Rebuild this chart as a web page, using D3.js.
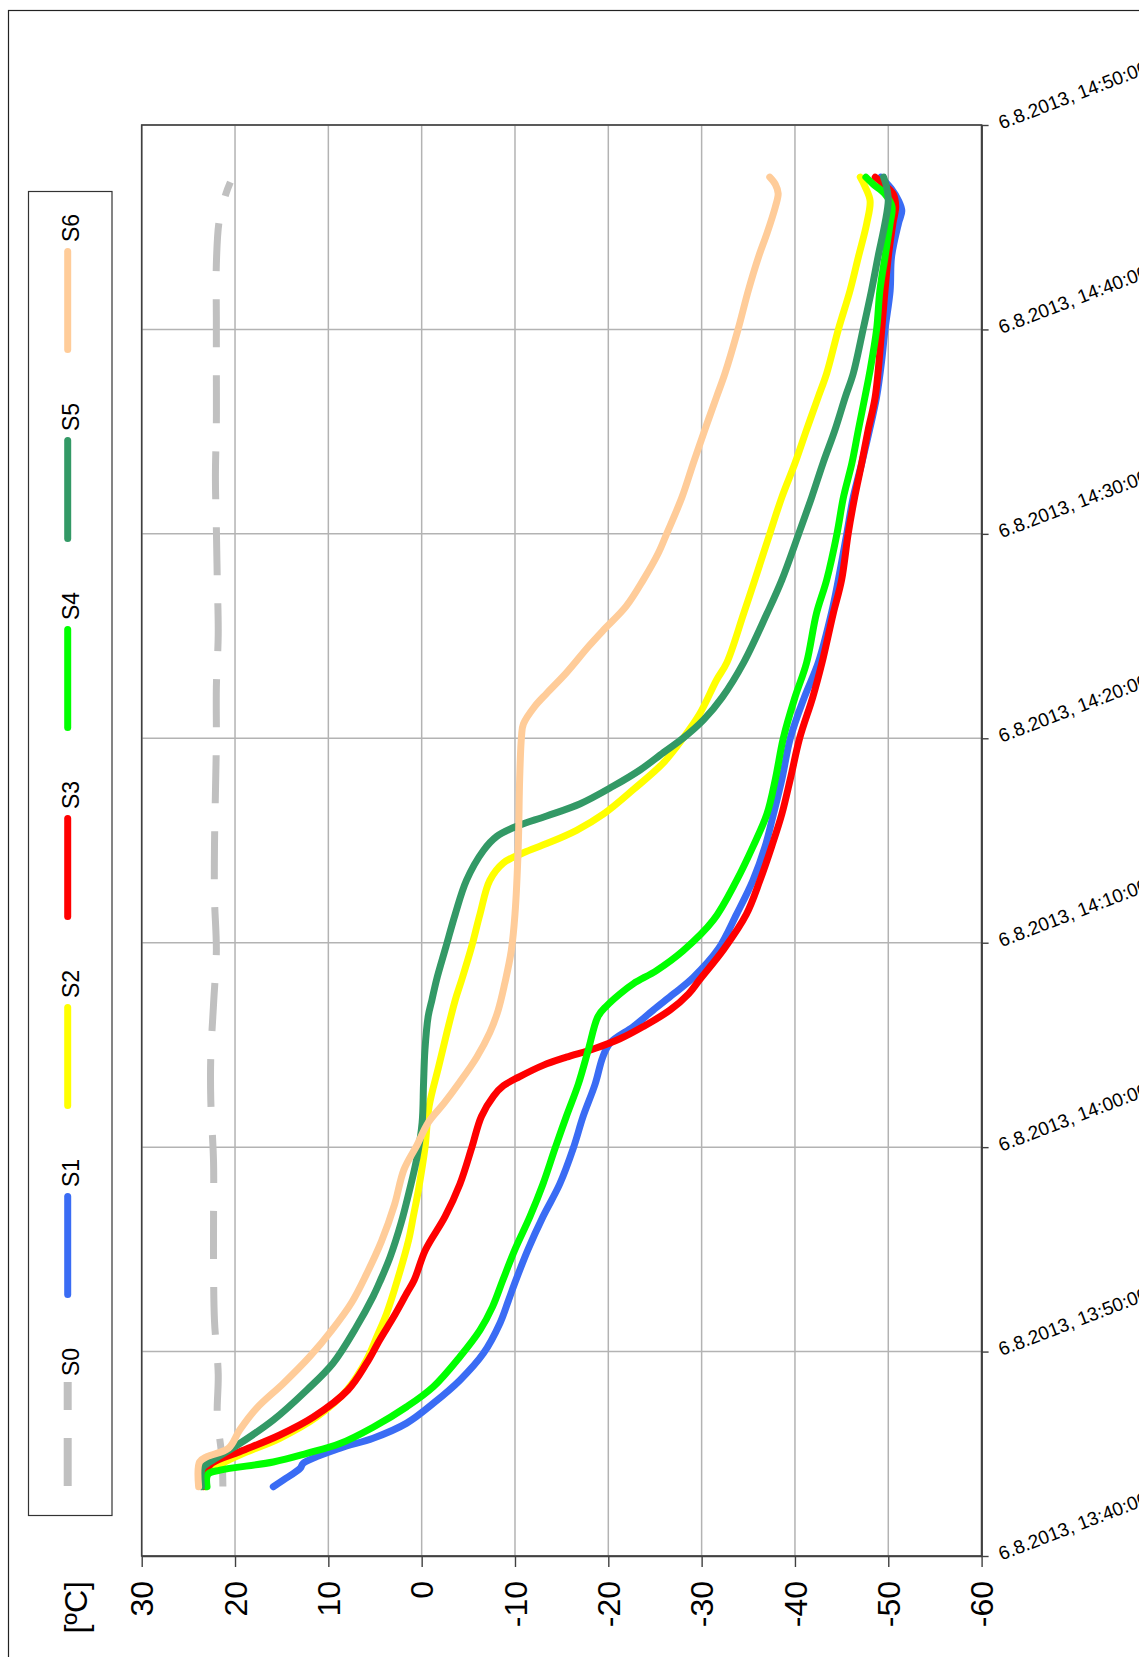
<!DOCTYPE html>
<html>
<head>
<meta charset="utf-8">
<script src="https://cdn.jsdelivr.net/npm/d3@7"></script>
<style>
  html, body { margin: 0; padding: 0; background: #fff; }
  svg { display: block; font-family: "Liberation Sans", Arial, Helvetica, sans-serif; }
</style>
</head>
<body>
<svg id="chart" width="1139" height="1657"></svg>
<script>
// Temperature logs, sampled as [minutes after 13:40:00, temperature in ºC]
const seriesNames = ["S0", "S1", "S2", "S3", "S4", "S5", "S6"];
const seriesColors = ["#c0c0c0", "#3a6cf4", "#ffff00", "#ff0000", "#00ff00", "#339966", "#ffcc99"];

const s0 = [[3.4,21.3],[4.8,21.4],[6.85,21.9],[8.9,21.8],[11.5,22.2],[14.1,22.3],[16.7,22.3],[19.25,22.3],[22.35,22.6],[24.4,22.6],[27.0,22.3],[29.6,22.0],[32.2,22.2],[34.75,22.2],[37.3,22.1],[39.9,22.0],[42.5,22.0],[45.1,21.8],[47.7,21.9],[50.3,22.0],[52.8,22.1],[55.4,22.0],[58.0,22.0],[60.6,22.0],[63.2,22.0],[65.3,21.7],[66.6,21.0],[67.2,20.5]];

const s1 = [[3.39,15.9],[3.72,14.8],[4.3,13.0],[4.53,12.7],[5.27,8.75],[5.76,5.2],[6.5,1.6],[7.47,-1.25],[8.6,-4.1],[9.9,-6.6],[11.4,-8.4],[12.5,-9.3],[13.5,-10.1],[15.0,-11.4],[16.6,-13.0],[18.2,-14.8],[19.95,-16.25],[21.5,-17.3],[23.1,-18.6],[24.4,-19.4],[25.1,-20.2],[25.9,-22.7],[26.7,-24.8],[27.5,-27.0],[28.3,-29.1],[29.7,-31.8],[31.4,-33.75],[33.05,-35.5],[34.7,-36.8],[36.3,-37.7],[38.0,-38.6],[40.0,-39.5],[42.0,-41.0],[43.7,-42.5],[46.1,-43.9],[47.75,-44.65],[50.0,-45.55],[51.8,-46.25],[53.45,-47.15],[55.1,-48.0],[56.7,-48.75],[58.5,-49.3],[60.0,-49.65],[61.9,-50.2],[63.55,-50.35],[65.2,-51.1],[65.8,-51.45],[66.3,-51.1],[66.9,-50.3],[67.45,-49.2]];

const s2 = [[3.39,23.2],[4.0,23.1],[4.3,22.3],[4.94,19.5],[5.76,15.2],[6.8,11.25],[8.12,8.0],[9.59,5.9],[10.73,4.8],[11.87,3.75],[13.5,2.6],[15.45,1.4],[16.6,0.9],[17.9,0.35],[19.95,-0.35],[22.0,-0.8],[23.9,-1.8],[25.6,-2.7],[27.2,-3.6],[28.2,-4.3],[29.8,-5.35],[31.4,-6.25],[33.05,-7.3],[33.9,-8.75],[34.4,-10.9],[34.85,-13.4],[35.5,-16.6],[36.3,-19.5],[37.5,-22.7],[38.8,-25.9],[40.0,-28.0],[41.2,-29.8],[42.85,-31.6],[43.7,-32.7],[46.1,-34.5],[47.75,-35.7],[50.0,-37.3],[51.8,-38.6],[53.45,-40.0],[55.1,-41.25],[56.7,-42.5],[57.85,-43.4],[60.0,-44.65],[61.9,-45.9],[63.55,-46.8],[65.2,-47.7],[66.3,-48.05],[67.0,-47.5],[67.45,-47.0]];

const s3 = [[3.39,23.4],[4.0,23.3],[4.53,22.5],[5.1,19.5],[5.92,15.2],[6.8,11.6],[8.12,7.9],[9.43,5.9],[10.57,4.5],[11.7,3.0],[12.85,1.6],[13.5,0.8],[14.97,-0.4],[16.6,-2.5],[18.2,-4.1],[19.95,-5.35],[21.5,-6.4],[22.5,-7.7],[23.0,-8.75],[23.45,-10.5],[24.0,-13.0],[24.4,-15.5],[24.8,-18.4],[25.3,-21.25],[25.9,-23.75],[26.7,-26.6],[27.5,-28.6],[28.2,-29.8],[29.7,-32.4],[31.4,-34.8],[33.05,-36.25],[34.7,-37.5],[36.3,-38.6],[38.0,-39.5],[40.0,-40.5],[42.0,-41.9],[43.7,-42.9],[46.1,-44.1],[47.75,-45.0],[50.0,-45.7],[51.8,-46.4],[53.45,-47.15],[55.1,-47.85],[56.7,-48.6],[60.0,-49.3],[61.9,-49.65],[63.55,-50.0],[65.2,-50.5],[66.0,-50.8],[66.65,-50.5],[67.1,-49.5],[67.45,-48.6]];

const s4 = [[3.39,23.0],[4.0,22.9],[4.2,21.6],[4.6,15.9],[5.02,12.3],[5.5,8.75],[6.3,5.2],[7.3,1.6],[8.28,-1.25],[9.75,-4.1],[11.05,-6.25],[12.2,-7.6],[13.5,-8.7],[15.0,-10.0],[16.6,-11.6],[18.2,-13.0],[19.95,-14.3],[21.5,-15.5],[23.1,-16.8],[24.75,-17.85],[26.4,-18.9],[26.9,-19.8],[27.5,-21.25],[28.0,-22.7],[28.65,-25.2],[29.6,-28.0],[31.1,-31.25],[33.05,-33.75],[34.7,-35.5],[36.3,-37.0],[38.0,-37.9],[40.0,-38.75],[42.0,-40.0],[43.7,-41.25],[46.1,-42.3],[47.75,-43.4],[50.0,-44.5],[51.8,-45.2],[53.45,-46.1],[55.1,-46.8],[56.7,-47.5],[58.0,-48.05],[60.0,-48.75],[61.9,-49.1],[63.55,-49.65],[65.2,-50.2],[66.0,-50.4],[66.65,-49.6],[67.1,-48.4],[67.45,-47.6]];

const s5 = [[3.39,23.6],[4.3,23.5],[4.6,22.7],[5.35,20.0],[6.65,15.9],[8.12,12.3],[9.43,9.5],[11.2,7.0],[12.7,5.2],[13.5,4.4],[14.6,3.4],[16.3,2.2],[17.9,1.3],[19.5,0.5],[21.2,-0.05],[23.1,-0.2],[24.75,-0.35],[26.4,-0.7],[27.2,-1.1],[28.2,-1.6],[29.8,-2.6],[31.4,-3.6],[33.05,-4.8],[34.5,-6.6],[35.2,-8.05],[35.7,-10.2],[36.2,-13.4],[36.8,-17.0],[37.65,-20.5],[38.45,-23.4],[39.3,-25.9],[40.0,-28.0],[40.9,-30.2],[42.0,-32.2],[43.7,-34.5],[46.1,-37.0],[47.75,-38.6],[50.0,-40.4],[51.8,-41.8],[53.45,-43.0],[55.1,-44.3],[56.7,-45.4],[57.85,-46.25],[60.0,-47.3],[61.9,-48.2],[63.55,-48.9],[65.2,-49.65],[66.3,-50.0],[67.0,-49.8],[67.45,-49.5]];

const s6 = [[3.39,23.9],[4.6,23.8],[4.86,23.0],[5.27,20.7],[6.16,19.5],[7.22,17.7],[8.45,14.8],[9.75,12.0],[11.06,9.6],[12.4,7.5],[13.8,5.9],[15.4,4.3],[17.2,2.9],[18.9,1.9],[20.1,0.5],[21.2,-0.7],[22.15,-2.4],[23.1,-3.95],[24.4,-5.9],[25.6,-7.3],[26.7,-8.2],[28.0,-8.9],[29.6,-9.6],[31.4,-10.0],[34.7,-10.35],[38.0,-10.5],[40.1,-10.7],[40.7,-10.9],[41.55,-12.1],[42.2,-13.4],[43.2,-15.5],[44.5,-17.9],[45.3,-19.5],[46.45,-21.9],[47.75,-23.75],[49.05,-25.35],[50.0,-26.25],[51.8,-27.9],[53.45,-29.1],[55.1,-30.35],[56.7,-31.6],[57.85,-32.5],[60.0,-33.9],[61.9,-35.0],[63.55,-36.1],[64.7,-37.0],[66.0,-37.9],[66.65,-38.2],[67.1,-37.9],[67.45,-37.3]];

const seriesData = [s0, s1, s2, s3, s4, s5, s6];

// Axis ticks
const tempTicks = [30, 20, 10, 0, -10, -20, -30, -40, -50, -60];
const timeTickMinutes = [0, 10, 20, 30, 40, 50, 60, 70];
const unitLabel = "[ºC]";

const base = new Date(2013, 7, 6, 13, 40, 0);
const toTime = m => new Date(base.getTime() + m * 60000);
const fmtTime = d3.timeFormat("%-d.%-m.%Y, %H:%M:%S");

const svg = d3.select("#chart");
const plot = { left: 141.7, right: 981.6, top: 125, bottom: 1556 };

// Temperature runs left (warm) to right (cold); time runs bottom to top
const x = d3.scaleLinear().domain([30, -60]).range([plot.left, plot.right]);
const y = d3.scaleTime().domain([toTime(0), toTime(70)]).range([plot.bottom, plot.top]);

// Outer frame
svg.append("rect")
  .attr("x", 8.5).attr("y", 10.5).attr("width", 1200).attr("height", 1700)
  .attr("fill", "none").attr("stroke", "#222").attr("stroke-width", 1.2);

// Grid
const grid = svg.append("g").attr("stroke", "#b3b3b3").attr("stroke-width", 1.5);
grid.selectAll("line.v").data(tempTicks).join("line")
  .attr("x1", d => x(d)).attr("x2", d => x(d))
  .attr("y1", plot.top).attr("y2", plot.bottom);
grid.selectAll("line.h").data(timeTickMinutes.map(toTime)).join("line")
  .attr("x1", plot.left).attr("x2", plot.right)
  .attr("y1", d => y(d)).attr("y2", d => y(d));

// Series lines
const line = d3.line()
  .x(d => x(d[1]))
  .y(d => y(toTime(d[0])))
  .curve(d3.curveCatmullRom.alpha(0.5));

const lines = svg.append("g").attr("fill", "none");
seriesData.forEach((data, i) => {
  const p = lines.append("path")
    .attr("d", line(data))
    .attr("stroke", seriesColors[i])
    .attr("stroke-width", 7)
    .attr("stroke-linejoin", "round")
    .attr("stroke-linecap", i === 0 ? "butt" : "round");
  if (i === 0) p.attr("stroke-dasharray", "48 28");
});

// Plot border
svg.append("rect")
  .attr("x", plot.left).attr("y", plot.top)
  .attr("width", plot.right - plot.left).attr("height", plot.bottom - plot.top)
  .attr("fill", "none").attr("stroke", "#404040").attr("stroke-width", 1.6);

// Temperature axis (bottom), labels turned upright
const xAxis = svg.append("g")
  .attr("transform", `translate(0,${plot.bottom})`)
  .call(d3.axisBottom(x).tickValues(tempTicks).tickSize(11).tickSizeOuter(0).tickFormat(d => String(d)));
xAxis.select(".domain").attr("stroke", "#404040").attr("stroke-width", 1.6);
xAxis.selectAll(".tick line").attr("stroke", "#404040").attr("stroke-width", 1.4);
xAxis.selectAll(".tick text")
  .attr("x", 0).attr("y", 0).attr("dy", "0.35em")
  .attr("transform", "translate(0,25) rotate(-90)")
  .attr("text-anchor", "end")
  .attr("font-size", 32).attr("font-family", null).attr("fill", "#000");

svg.append("text")
  .attr("transform", `translate(76,1581) rotate(-90)`)
  .attr("dy", "0.35em")
  .attr("text-anchor", "end")
  .attr("font-size", 32)
  .text(unitLabel);

// Time axis (right), slanted labels
const yAxis = svg.append("g")
  .attr("transform", `translate(${plot.right},0)`)
  .call(d3.axisRight(y).tickValues(timeTickMinutes.map(toTime)).tickSize(7).tickSizeOuter(0).tickFormat(fmtTime));
yAxis.select(".domain").attr("stroke", "#404040").attr("stroke-width", 1.6);
yAxis.selectAll(".tick line").attr("stroke", "#404040").attr("stroke-width", 1.4);
yAxis.selectAll(".tick text")
  .attr("x", 0).attr("dy", 0)
  .attr("transform", "translate(20,4) rotate(-21)")
  .attr("text-anchor", "start")
  .attr("font-size", 19).attr("font-family", null).attr("fill", "#000");

// Legend, entries stacked top to bottom from S6 to S0
const legend = svg.append("g");
legend.append("rect")
  .attr("x", 28.5).attr("y", 191.5).attr("width", 83.5).attr("height", 1324)
  .attr("fill", "#fff").attr("stroke", "#333").attr("stroke-width", 1.2);

const legendOrder = [6, 5, 4, 3, 2, 1, 0];
legendOrder.forEach((si, k) => {
  const top = 248 + k * 189;
  legend.append("text")
    .attr("transform", `translate(79,${top - 6}) rotate(-90)`)
    .attr("text-anchor", "start")
    .attr("font-size", 23)
    .attr("fill", "#000")
    .text(seriesNames[si]);
  const l = legend.append("line")
    .attr("x1", 67.7).attr("x2", 67.7)
    .attr("stroke", seriesColors[si]);
  if (si === 0) {
    l.attr("y1", top + 104).attr("y2", top)
      .attr("stroke-width", 8).attr("stroke-dasharray", "48 28").attr("stroke-linecap", "butt");
  } else {
    l.attr("y1", top + 3.5).attr("y2", top + 101.5)
      .attr("stroke-width", 7).attr("stroke-linecap", "round");
  }
});
</script>
</body>
</html>
